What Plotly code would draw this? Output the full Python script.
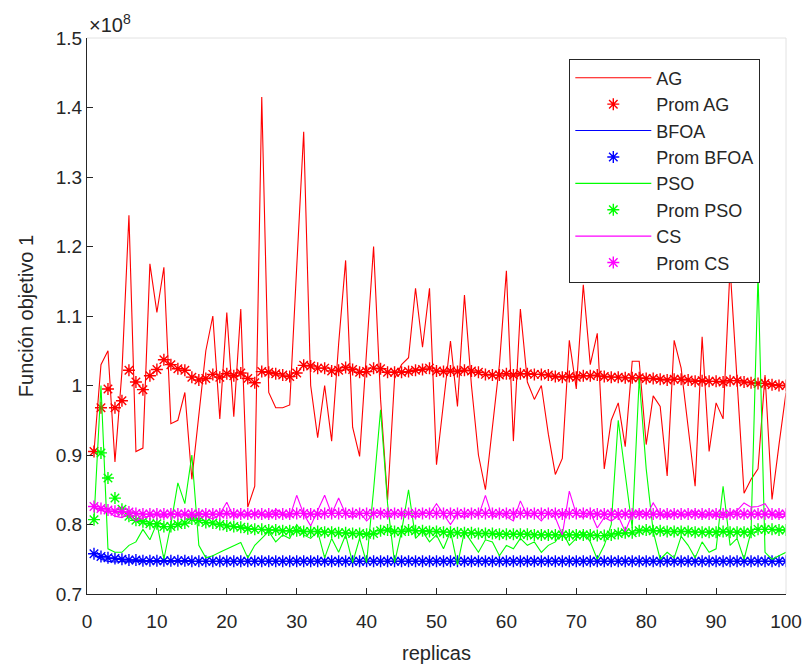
import plotly.graph_objects as go

# Objective-function values per replica (units of 1e8)
replicas = list(range(1, 101))

ag = [0.905, 1.03, 1.05, 0.89, 1.02, 1.245, 0.905, 0.91, 1.175, 1.105,
      1.17, 0.945, 0.95, 0.99, 0.865, 0.955, 1.05, 1.10, 0.952, 1.105,
      0.955, 1.11, 0.825, 0.855, 1.415, 0.99, 0.968, 0.968, 0.972, 1.17,
      1.365, 1.0, 0.925, 1.0, 0.92, 1.06, 1.18, 0.94, 0.898, 1.05,
      1.2, 0.98, 0.835, 1.01, 1.03, 1.04, 1.14, 1.055, 1.14, 0.886,
      0.975, 1.064, 0.97, 1.13, 1.0, 0.9, 0.85, 0.94, 1.03, 1.165,
      0.92, 1.11, 1.005, 0.98, 1.0, 0.93, 0.872, 0.895, 1.065, 0.995,
      1.145, 1.03, 1.075, 0.88, 0.95, 0.975, 0.912, 1.035, 1.035, 0.915,
      0.985, 0.97, 0.87, 1.065, 1.025, 0.94, 0.855, 1.07, 0.905, 0.975,
      0.952, 1.17, 1.0, 0.845, 0.865, 0.88, 1.015, 0.836, 0.915, 0.99]

prom_ag = [0.905, 0.968, 0.995, 0.968, 0.978, 1.022, 1.005, 0.994, 1.014, 1.023,
           1.037, 1.03, 1.024, 1.022, 1.012, 1.008, 1.01, 1.016, 1.012, 1.017,
           1.014, 1.018, 1.01, 1.004, 1.02, 1.019, 1.017, 1.015, 1.013, 1.018,
           1.029, 1.028, 1.025, 1.025, 1.021, 1.022, 1.026, 1.023, 1.019, 1.02,
           1.025, 1.024, 1.019, 1.019, 1.019, 1.02, 1.022, 1.023, 1.025, 1.021,
           1.02, 1.021, 1.02, 1.022, 1.021, 1.019, 1.016, 1.015, 1.015, 1.017,
           1.015, 1.017, 1.017, 1.016, 1.016, 1.015, 1.013, 1.012, 1.013, 1.012,
           1.014, 1.014, 1.015, 1.013, 1.012, 1.012, 1.011, 1.011, 1.011, 1.01,
           1.01, 1.009, 1.008, 1.009, 1.009, 1.008, 1.006, 1.007, 1.006, 1.006,
           1.005, 1.007, 1.007, 1.005, 1.004, 1.003, 1.003, 1.001, 1.0, 1.0]

bfoa = [0.758, 0.75, 0.747, 0.746, 0.747, 0.746, 0.747, 0.747, 0.746, 0.747,
        0.747, 0.746, 0.747, 0.747, 0.746, 0.747, 0.747, 0.746, 0.747, 0.747,
        0.746, 0.747, 0.747, 0.746, 0.747, 0.747, 0.746, 0.747, 0.747, 0.746,
        0.747, 0.747, 0.746, 0.747, 0.747, 0.746, 0.747, 0.747, 0.746, 0.747,
        0.747, 0.746, 0.747, 0.747, 0.746, 0.747, 0.747, 0.746, 0.747, 0.747,
        0.746, 0.747, 0.747, 0.746, 0.747, 0.747, 0.746, 0.747, 0.747, 0.746,
        0.747, 0.747, 0.746, 0.747, 0.747, 0.746, 0.747, 0.747, 0.746, 0.747,
        0.747, 0.746, 0.747, 0.747, 0.746, 0.747, 0.747, 0.746, 0.747, 0.747,
        0.746, 0.747, 0.747, 0.746, 0.747, 0.747, 0.746, 0.747, 0.747, 0.746,
        0.747, 0.747, 0.746, 0.747, 0.747, 0.746, 0.747, 0.747, 0.746, 0.747]

prom_bfoa = [0.758, 0.754, 0.752, 0.751, 0.75, 0.749, 0.749, 0.748, 0.748, 0.748,
             0.748, 0.748, 0.748, 0.748, 0.747, 0.747, 0.747, 0.747, 0.747, 0.747,
             0.747, 0.747, 0.747, 0.747, 0.747, 0.747, 0.747, 0.747, 0.747, 0.747,
             0.747, 0.747, 0.747, 0.747, 0.747, 0.747, 0.747, 0.747, 0.747, 0.747,
             0.747, 0.747, 0.747, 0.747, 0.747, 0.747, 0.747, 0.747, 0.747, 0.747,
             0.747, 0.747, 0.747, 0.747, 0.747, 0.747, 0.747, 0.747, 0.747, 0.747,
             0.747, 0.747, 0.747, 0.747, 0.747, 0.747, 0.747, 0.747, 0.747, 0.747,
             0.747, 0.747, 0.747, 0.747, 0.747, 0.747, 0.747, 0.747, 0.747, 0.747,
             0.747, 0.747, 0.747, 0.747, 0.747, 0.747, 0.747, 0.747, 0.747, 0.747,
             0.747, 0.747, 0.747, 0.747, 0.747, 0.747, 0.747, 0.747, 0.747, 0.747]

pso = [0.807, 1.0, 0.765, 0.76, 0.76, 0.77, 0.775, 0.793, 0.778, 0.802,
       0.75, 0.8, 0.86, 0.83, 0.9, 0.77, 0.752, 0.755, 0.76, 0.765,
       0.77, 0.774, 0.752, 0.77, 0.78, 0.79, 0.775, 0.785, 0.78, 0.80,
       0.785, 0.78, 0.79, 0.752, 0.78, 0.76, 0.785, 0.745, 0.78, 0.745,
       0.85, 0.965, 0.83, 0.745, 0.79, 0.85, 0.78, 0.79, 0.775, 0.785,
       0.765, 0.79, 0.742, 0.79, 0.775, 0.76, 0.778, 0.775, 0.755, 0.77,
       0.765, 0.78, 0.77, 0.775, 0.76, 0.77, 0.775, 0.79, 0.77, 0.78,
       0.79, 0.775, 0.75, 0.77, 0.8, 0.95, 0.87, 0.795, 1.01, 0.88,
       0.79, 0.75, 0.76, 0.752, 0.783, 0.77, 0.752, 0.775, 0.76, 0.765,
       0.855, 0.77, 0.78, 0.75, 0.79, 1.16, 0.76, 0.75, 0.755, 0.76]

prom_pso = [0.807, 0.903, 0.867, 0.838, 0.822, 0.812, 0.806, 0.804, 0.801, 0.801,
            0.797, 0.797, 0.80, 0.802, 0.808, 0.806, 0.803, 0.802, 0.80, 0.798,
            0.797, 0.796, 0.794, 0.793, 0.793, 0.792, 0.792, 0.791, 0.791, 0.791,
            0.79, 0.79, 0.79, 0.789, 0.789, 0.788, 0.788, 0.787, 0.787, 0.786,
            0.787, 0.791, 0.792, 0.79, 0.79, 0.792, 0.791, 0.791, 0.79, 0.79,
            0.789, 0.789, 0.788, 0.788, 0.788, 0.787, 0.787, 0.787, 0.786, 0.786,
            0.786, 0.786, 0.786, 0.785, 0.785, 0.785, 0.785, 0.785, 0.785, 0.785,
            0.785, 0.785, 0.784, 0.784, 0.785, 0.787, 0.788, 0.788, 0.791, 0.792,
            0.791, 0.791, 0.79, 0.79, 0.79, 0.79, 0.789, 0.789, 0.789, 0.789,
            0.79, 0.789, 0.789, 0.789, 0.789, 0.793, 0.793, 0.793, 0.792, 0.792]

cs = [0.826, 0.82, 0.818, 0.812, 0.81, 0.815, 0.805, 0.81, 0.812, 0.815,
      0.81, 0.818, 0.812, 0.815, 0.81, 0.818, 0.812, 0.808, 0.815, 0.832,
      0.81, 0.815, 0.812, 0.818, 0.815, 0.81, 0.822, 0.815, 0.81, 0.842,
      0.815, 0.798, 0.82, 0.842, 0.815, 0.838, 0.815, 0.81, 0.818, 0.805,
      0.815, 0.82, 0.81, 0.818, 0.812, 0.815, 0.81, 0.818, 0.815, 0.83,
      0.815, 0.80, 0.815, 0.81, 0.818, 0.812, 0.842, 0.81, 0.818, 0.812,
      0.805, 0.834, 0.812, 0.815, 0.805, 0.818, 0.81, 0.785, 0.848, 0.815,
      0.81, 0.818, 0.795, 0.81, 0.805, 0.812, 0.79, 0.815, 0.82, 0.812,
      0.831, 0.815, 0.81, 0.818, 0.812, 0.815, 0.82, 0.81, 0.815, 0.812,
      0.81, 0.815, 0.82, 0.831, 0.825, 0.826, 0.83, 0.815, 0.81, 0.812]

prom_cs = [0.826, 0.823, 0.821, 0.819, 0.818, 0.818, 0.816, 0.815, 0.815, 0.815,
           0.815, 0.815, 0.815, 0.815, 0.815, 0.815, 0.815, 0.815, 0.815, 0.816,
           0.815, 0.815, 0.815, 0.815, 0.815, 0.815, 0.815, 0.815, 0.815, 0.816,
           0.816, 0.815, 0.815, 0.816, 0.816, 0.816, 0.816, 0.816, 0.816, 0.816,
           0.816, 0.816, 0.816, 0.816, 0.816, 0.816, 0.816, 0.816, 0.816, 0.816,
           0.816, 0.816, 0.816, 0.816, 0.816, 0.816, 0.816, 0.816, 0.816, 0.816,
           0.816, 0.816, 0.816, 0.816, 0.816, 0.816, 0.816, 0.815, 0.816, 0.816,
           0.816, 0.816, 0.815, 0.815, 0.815, 0.815, 0.815, 0.815, 0.815, 0.815,
           0.815, 0.815, 0.815, 0.815, 0.815, 0.815, 0.815, 0.815, 0.815, 0.815,
           0.815, 0.815, 0.815, 0.815, 0.815, 0.815, 0.815, 0.815, 0.815, 0.815]

y_ticks = [0.7, 0.8, 0.9, 1.0, 1.1, 1.2, 1.3, 1.4, 1.5]
y_tick_text = ["0.7", "0.8", "0.9", "1", "1.1", "1.2", "1.3", "1.4", "1.5"]
x_ticks = list(range(0, 101, 10))

FONT = "Liberation Sans, Arial, Helvetica, sans-serif"
AXIS_COLOR = "#262626"

series = [
    ("AG", ag, "#ff0000", "line"),
    ("Prom AG", prom_ag, "#ff0000", "marker"),
    ("BFOA", bfoa, "#0000ff", "line"),
    ("Prom BFOA", prom_bfoa, "#0000ff", "marker"),
    ("PSO", pso, "#00ff00", "line"),
    ("Prom PSO", prom_pso, "#00ff00", "marker"),
    ("CS", cs, "#ff00ff", "line"),
    ("Prom CS", prom_cs, "#ff00ff", "marker"),
]

fig = go.Figure()
for name, vals, color, kind in series:
    if kind == "line":
        fig.add_trace(go.Scatter(
            x=replicas, y=vals, name=name, mode="lines",
            line=dict(color=color, width=1.1),
        ))
    else:
        fig.add_trace(go.Scatter(
            x=replicas, y=vals, name=name, mode="markers",
            marker=dict(symbol="asterisk-open", size=10, color=color,
                        line=dict(color=color, width=1.4)),
        ))

fig.update_layout(
    width=802, height=664,
    margin=dict(l=87, r=16, t=38, b=70, autoexpand=False),
    paper_bgcolor="white", plot_bgcolor="white",
    font=dict(family=FONT, size=18, color=AXIS_COLOR),
    showlegend=True,
    legend=dict(
        x=0.69, y=0.963, xanchor="left", yanchor="top",
        bgcolor="white", bordercolor=AXIS_COLOR, borderwidth=1,
        font=dict(family=FONT, size=18, color=AXIS_COLOR),
        itemwidth=76,
    ),
    xaxis=dict(
        range=[0, 100], tickvals=x_ticks, ticks="inside", ticklen=6,
        tickcolor=AXIS_COLOR, showline=True, linecolor=AXIS_COLOR, linewidth=1,
        showgrid=False, zeroline=False, tickfont=dict(size=19),
        ticklabelstandoff=10, automargin=False,
        title=dict(text="replicas", font=dict(size=20), standoff=18),
    ),
    yaxis=dict(
        range=[0.7, 1.5], tickvals=y_ticks, ticktext=y_tick_text,
        ticks="inside", ticklen=6, tickcolor=AXIS_COLOR, showline=True,
        linecolor=AXIS_COLOR, linewidth=1, showgrid=False, zeroline=False,
        tickfont=dict(size=19), automargin=False,
        title=dict(text="Función objetivo 1", font=dict(size=20), standoff=16),
    ),
    shapes=[
        dict(type="line", xref="paper", yref="paper", x0=0, x1=1, y0=1, y1=1,
             line=dict(color="#e2e2e2", width=1)),
        dict(type="line", xref="paper", yref="paper", x0=1, x1=1, y0=0, y1=1,
             line=dict(color="#e2e2e2", width=1)),
    ],
    annotations=[
        dict(text="×10<sup>8</sup>", xref="paper", yref="paper", x=0, y=1,
             xanchor="left", yanchor="bottom", showarrow=False,
             font=dict(size=20, color=AXIS_COLOR)),
    ],
)

fig.write_html("out.html")
